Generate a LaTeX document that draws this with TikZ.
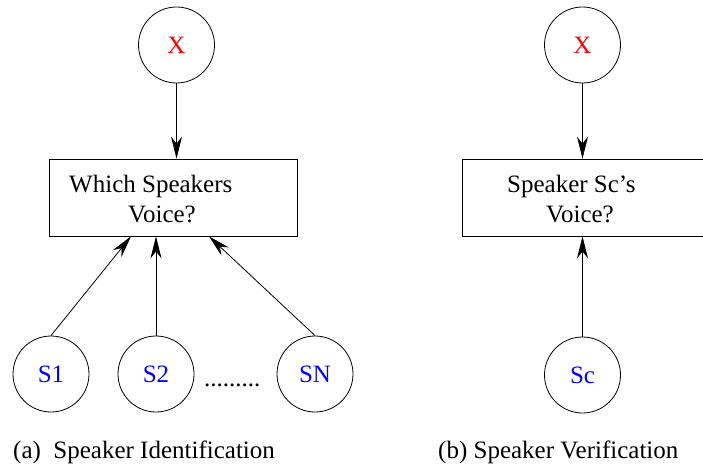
\documentclass[tikz,border=0pt]{standalone}
\usepackage{fontspec}
\setmainfont{Liberation Serif}
\usetikzlibrary{arrows.meta}
\begin{document}
\begin{tikzpicture}[x=1pt,y=-1pt,
  every node/.style={font=\fontsize{25}{29}\selectfont},
  unit/.style={draw,circle,line width=0.8pt,minimum size=76pt,inner sep=0pt},
  question/.style={draw,rectangle,line width=0.8pt,inner sep=0pt},
  flow/.style={line width=0.8pt,-{Stealth[length=22pt,width=11pt,inset=7pt]}},
  lbl/.style={anchor=base west,inner sep=0pt}]
\useasboundingbox (0,0) rectangle (703,465);

% (a) identification
\node[unit,text=red] (xa) at (176.5,45) {X};
\node[question,minimum width=248pt,minimum height=77pt] (qa) at (173,197.5) {};
\node[lbl] (qa1) at (69,192) {Which Speakers};
\node[lbl] (qa2) at (128,222) {Voice?};
\node[unit,text=blue] (s1) at (51,374) {S1};
\node[unit,text=blue] (s2) at (156,374) {S2};
\node[unit,text=blue] (sn) at (315,374) {SN};
\node[lbl] (dots) at (204,386) {.........};
\draw[flow] (xa.south) -- (xa.south |- qa.north);
\draw[flow] (s1.north) -- ([xshift=-42pt]qa.south);
\draw[flow] (s2.north) -- (s2.north |- qa.south);
\draw[flow] (sn.north) -- ([xshift=36pt]qa.south);
\node[lbl] (capa) at (13,458) {(a)\ \ Speaker Identification};

% (b) verification
\node[unit,text=red] (xb) at (582.5,45) {X};
\node[question,minimum width=244pt,minimum height=77pt] (qb) at (584,197.5) {};
\node[lbl] (qb1) at (507,192) {Speaker Sc’s};
\node[lbl] (qb2) at (546,222) {Voice?};
\node[unit,text=blue] (sc) at (582.5,375) {Sc};
\draw[flow] (xb.south) -- (xb.south |- qb.north);
\draw[flow] (sc.north) -- (sc.north |- qb.south);
\node[lbl] (capb) at (438,458) {(b) Speaker Verification};
\end{tikzpicture}
\end{document}
